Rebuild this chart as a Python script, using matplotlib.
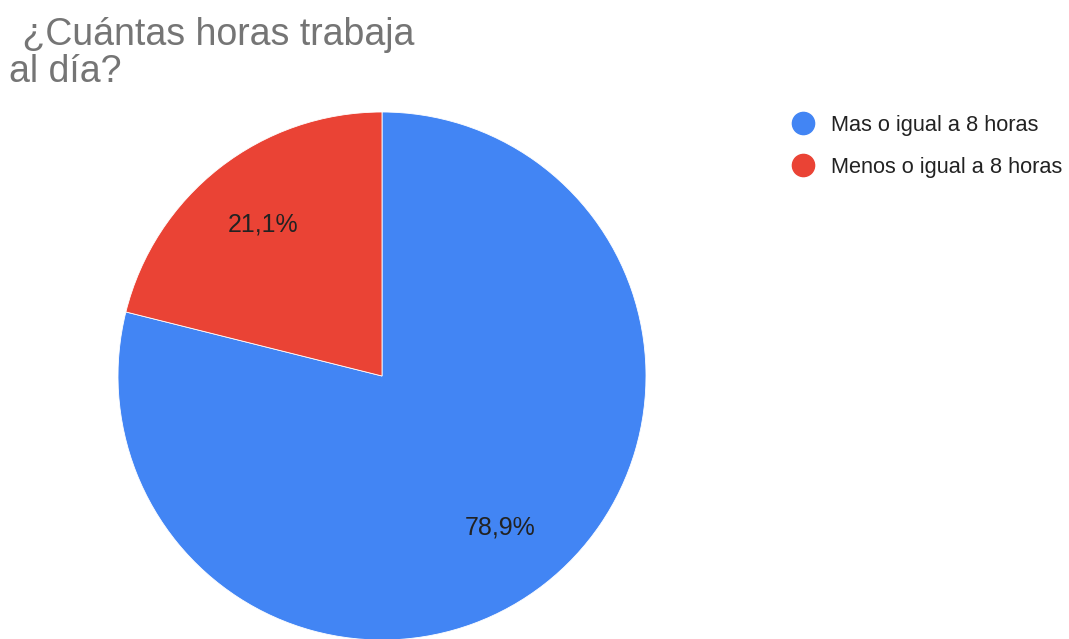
import matplotlib
matplotlib.use("Agg")
import matplotlib.pyplot as plt
from matplotlib.lines import Line2D

plt.rcParams['font.family'] = ['Liberation Sans', 'DejaVu Sans']

title_lines = [" ¿Cuántas horas trabaja", "al día?"]
categories = ["Mas o igual a 8 horas", "Menos o igual a 8 horas"]
values = [78.9, 21.1]
colors = ["#4285F4", "#EA4335"]

W, H = 1069, 639
fig = plt.figure(figsize=(W / 100, H / 100), dpi=100)
fig.patch.set_facecolor("white")

# pie axes: center (382, 376) px, radius 264 px
cx, cy, r = 382, 376, 264
ax = fig.add_axes([(cx - r) / W, (H - cy - r) / H, 2 * r / W, 2 * r / H])

wedges, texts, autotexts = ax.pie(
    values, colors=colors, startangle=90, counterclock=False, radius=1,
    autopct=lambda p: f"{p:.1f}".replace(".", ",") + "%",
    pctdistance=0.73,
    wedgeprops=dict(edgecolor="white", linewidth=0.6),
    textprops=dict(fontsize=18, color="#222222"))
ax.set_xlim(-1, 1)
ax.set_ylim(-1, 1)
ax.axis("off")
for w in wedges:
    w.set_clip_on(False)

# title
fig.text(12 / W, 1 - 45 / H, title_lines[0], fontsize=27, color="#757575",
         ha="left", va="baseline")
fig.text(9 / W, 1 - 82 / H, title_lines[1], fontsize=27, color="#757575",
         ha="left", va="baseline")

# legend
handles = [Line2D([0], [0], marker="o", linestyle="none", markersize=16,
                  markerfacecolor=c, markeredgecolor=c) for c in colors]
leg = fig.legend(handles, categories, loc="upper left",
                 bbox_to_anchor=(792 / W, 1 - 115 / H), frameon=False,
                 fontsize=15.7, handlelength=1.0, handletextpad=0.78,
                 labelspacing=0.95, borderpad=0, borderaxespad=0)
for t in leg.get_texts():
    t.set_color("#222222")

fig.savefig("out.png", dpi=100, facecolor="white")
